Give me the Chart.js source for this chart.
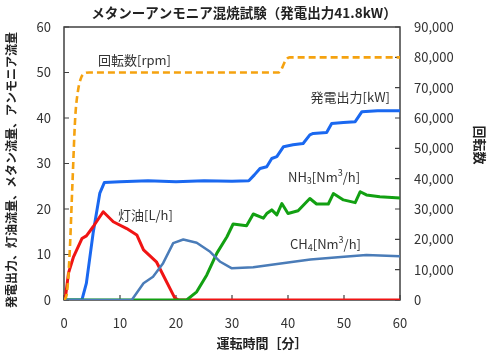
<!DOCTYPE html>
<html>
<head>
<meta charset="utf-8">
<script src="https://cdn.jsdelivr.net/npm/chart.js@4.4.1/dist/chart.umd.min.js"></script>
<style>
  html, body { margin: 0; padding: 0; background: #fff; }
  canvas { display: block; }
</style>
</head>
<body>
<canvas id="chart" width="490" height="358"></canvas>
<script>
// time axis [min] and series
const xTicks = [0, 10, 20, 30, 40, 50, 60];

const rpmTime = [0, 0.5, 1, 1.5, 2, 2.5, 3, 3.5, 4.5, 38.3, 38.8, 39.3, 39.8, 40.3, 60];
const rpmValue = [0, 2000, 15000, 38000, 60000, 69000, 73000, 74500, 75000, 75000, 76000, 78000, 79500, 80000, 80000];

const kwTime = [0, 3.2, 4, 5.2, 6.4, 7.2, 10, 15, 20, 25, 30, 33, 34, 35, 36.2, 37.1, 38, 39.2, 40.9, 42.7, 43.9, 44.5, 46.9, 47.8, 49.9, 52, 53.2, 56, 60];
const kwValue = [0, 0, 3.7, 14.7, 23.5, 25.8, 26, 26.2, 26, 26.2, 26.1, 26.2, 27.5, 28.9, 29.3, 31.1, 31.5, 33.7, 34.1, 34.4, 36.3, 36.6, 36.8, 38.8, 39.0, 39.2, 41.4, 41.6, 41.6];

const keroTime = [0, 0.2, 0.8, 1.7, 3.2, 4.0, 5.2, 7.0, 8.8, 11.2, 13, 14.2, 16.5, 17.7, 19.8, 20.5, 60];
const keroValue = [0, 0, 5.9, 9.5, 13.5, 14.1, 16.1, 19.4, 17.2, 15.7, 14.3, 11, 8.4, 5.5, 0.4, 0, 0];

const ch4Time = [0, 12.1, 14.2, 15.9, 17.7, 19.5, 21.3, 23.7, 26.1, 27.9, 29.9, 33.8, 37.4, 41, 44, 50, 54, 60];
const ch4Value = [0, 0, 3.7, 5.1, 8.1, 12.5, 13.3, 12.6, 10.6, 8.4, 7.0, 7.2, 7.8, 8.4, 8.9, 9.5, 9.9, 9.6];

const nh3Time = [0, 21.9, 23.7, 25.5, 27.3, 29.1, 30.2, 32.6, 33.8, 35.6, 36.2, 37.1, 38, 38.9, 40, 41.8, 43.9, 45.1, 47.2, 48.1, 49.9, 52, 52.9, 54, 56.4, 60];
const nh3Value = [0, 0, 1.8, 5.5, 10.3, 13.9, 16.7, 16.3, 18.9, 18, 19, 19.8, 18.7, 21.2, 19, 19.6, 22.3, 21.1, 21.1, 23.4, 22, 21.4, 23.8, 23.1, 22.7, 22.4];

const FONT = "'Noto Sans CJK JP', 'Noto Sans', sans-serif";
const TEXT = '#333333';

function pts(xs, ys) {
    return xs.map((x, i) => ({ x: x, y: ys[i] }));
}

// draws text made of parts, some of them sub/superscript
function drawRich(ctx, x, y, parts, size, align) {
    const small = Math.round(size * 0.7);
    let total = 0;
    parts.forEach(p => {
        ctx.font = (p.s ? small : size) + 'px ' + FONT;
        p.w = ctx.measureText(p.t).width;
        total += p.w;
    });
    let cx = align === 'right' ? x - total : x;
    parts.forEach(p => {
        ctx.font = (p.s ? small : size) + 'px ' + FONT;
        let dy = 0;
        if (p.s === 'sub') dy = size * 0.3;
        if (p.s === 'sup') dy = -size * 0.35;
        ctx.fillText(p.t, cx, y + dy);
        cx += p.w;
    });
}

function drawRotated(ctx, text, x, y, angle, font) {
    ctx.save();
    ctx.translate(x, y);
    ctx.rotate(angle);
    ctx.font = font;
    ctx.textAlign = 'center';
    ctx.textBaseline = 'middle';
    ctx.fillText(text, 0, 0);
    ctx.restore();
}

const frame = {
    id: 'frame',
    beforeDatasetsDraw(chart) {
        const { ctx, chartArea: a, scales } = chart;
        ctx.save();
        ctx.strokeStyle = '#404040';
        ctx.lineWidth = 1.5;
        ctx.strokeRect(a.left, a.top, a.right - a.left, a.bottom - a.top);
        ctx.lineWidth = 1.2;
        ctx.beginPath();
        scales.x.ticks.forEach(t => {
            const px = scales.x.getPixelForValue(t.value);
            ctx.moveTo(px, a.bottom); ctx.lineTo(px, a.bottom - 5);
        });
        scales.y.ticks.forEach(t => {
            const py = scales.y.getPixelForValue(t.value);
            ctx.moveTo(a.left, py); ctx.lineTo(a.left + 5, py);
        });
        scales.y1.ticks.forEach(t => {
            const py = scales.y1.getPixelForValue(t.value);
            ctx.moveTo(a.right, py); ctx.lineTo(a.right - 5, py);
        });
        ctx.stroke();
        ctx.restore();
    },
    afterDraw(chart) {
        const { ctx } = chart;
        ctx.save();
        ctx.fillStyle = '#222';
        ctx.textBaseline = 'middle';
        ctx.textAlign = 'center';
        ctx.font = 'bold 13.5px ' + FONT;
        ctx.fillText('メタンーアンモニア混焼試験（発電出力41.8kW）', 244, 13);
        ctx.font = 'bold 13px ' + FONT;
        ctx.fillText('運転時間［分］', 262, 343);

        // axis titles
        drawRotated(ctx, '発電出力、灯油流量、メタン流量、アンモニア流量', 11, 170, -Math.PI / 2, 'bold 12px ' + FONT);
        drawRotated(ctx, '回転数', 480, 145, Math.PI / 2, 'bold 13px ' + FONT);

        ctx.textAlign = 'left';
        ctx.fillStyle = TEXT;
        drawRich(ctx, 98, 60, [{ t: '回転数[rpm]' }], 13);
        drawRich(ctx, 390, 97, [{ t: '発電出力[kW]' }], 13, 'right');
        drawRich(ctx, 118, 215, [{ t: '灯油[L/h]' }], 13);
        drawRich(ctx, 288, 177, [{ t: 'NH' }, { t: '3', s: 'sub' }, { t: '[Nm' }, { t: '3', s: 'sup' }, { t: '/h]' }], 13);
        drawRich(ctx, 290, 244, [{ t: 'CH' }, { t: '4', s: 'sub' }, { t: '[Nm' }, { t: '3', s: 'sup' }, { t: '/h]' }], 13);
        ctx.restore();
    }
};

new Chart(document.getElementById('chart'), {
    type: 'line',
    data: {
        datasets: [
            {
                label: '回転数[rpm]',
                data: pts(rpmTime, rpmValue),
                yAxisID: 'y1',
                borderColor: '#f5a20f',
                borderWidth: 2.6,
                borderDash: [7, 4],
                cubicInterpolationMode: 'monotone',
                order: 0
            },
            {
                label: 'CH4',
                data: pts(ch4Time, ch4Value),
                yAxisID: 'y',
                borderColor: '#4a7cb8',
                borderWidth: 2.5,
                order: 1
            },
            {
                label: 'NH3',
                data: pts(nh3Time, nh3Value),
                yAxisID: 'y',
                borderColor: '#12a012',
                borderWidth: 3,
                order: 2
            },
            {
                label: '灯油[L/h]',
                data: pts(keroTime, keroValue),
                yAxisID: 'y',
                borderColor: '#f01414',
                borderWidth: 3,
                order: 3
            },
            {
                label: '発電出力[kW]',
                data: pts(kwTime, kwValue),
                yAxisID: 'y',
                borderColor: '#1a68f0',
                borderWidth: 3,
                order: 4
            }
        ]
    },
    options: {
        responsive: false,
        animation: false,
        events: [],
        layout: { padding: { top: 27, left: 0, right: 0, bottom: 0 } },
        elements: {
            point: { radius: 0 },
            line: { tension: 0, borderJoinStyle: 'round', borderCapStyle: 'butt' }
        },
        plugins: {
            legend: { display: false },
            tooltip: { enabled: false }
        },
        scales: {
            x: {
                type: 'linear',
                min: 0,
                max: 60,
                afterBuildTicks: s => { s.ticks = xTicks.map(v => ({ value: v })); },
                grid: { display: false, drawTicks: false },
                border: { display: false },
                ticks: { padding: 15, color: TEXT, font: { family: FONT, size: 13 } },
                afterFit: s => { s.height = 58; }
            },
            y: {
                position: 'left',
                min: 0,
                max: 60,
                ticks: { stepSize: 10, padding: 13, color: TEXT, font: { family: FONT, size: 13 } },
                grid: { display: false, drawTicks: false },
                border: { display: false },
                afterFit: s => { s.width = 64; }
            },
            y1: {
                position: 'right',
                min: 0,
                max: 90000,
                ticks: {
                    stepSize: 10000,
                    padding: 14,
                    color: TEXT,
                    font: { family: FONT, size: 13 },
                    callback: v => v.toLocaleString('en-US')
                },
                grid: { display: false, drawTicks: false },
                border: { display: false },
                afterFit: s => { s.width = 90; }
            }
        }
    },
    plugins: [frame]
});
</script>
</body>
</html>
